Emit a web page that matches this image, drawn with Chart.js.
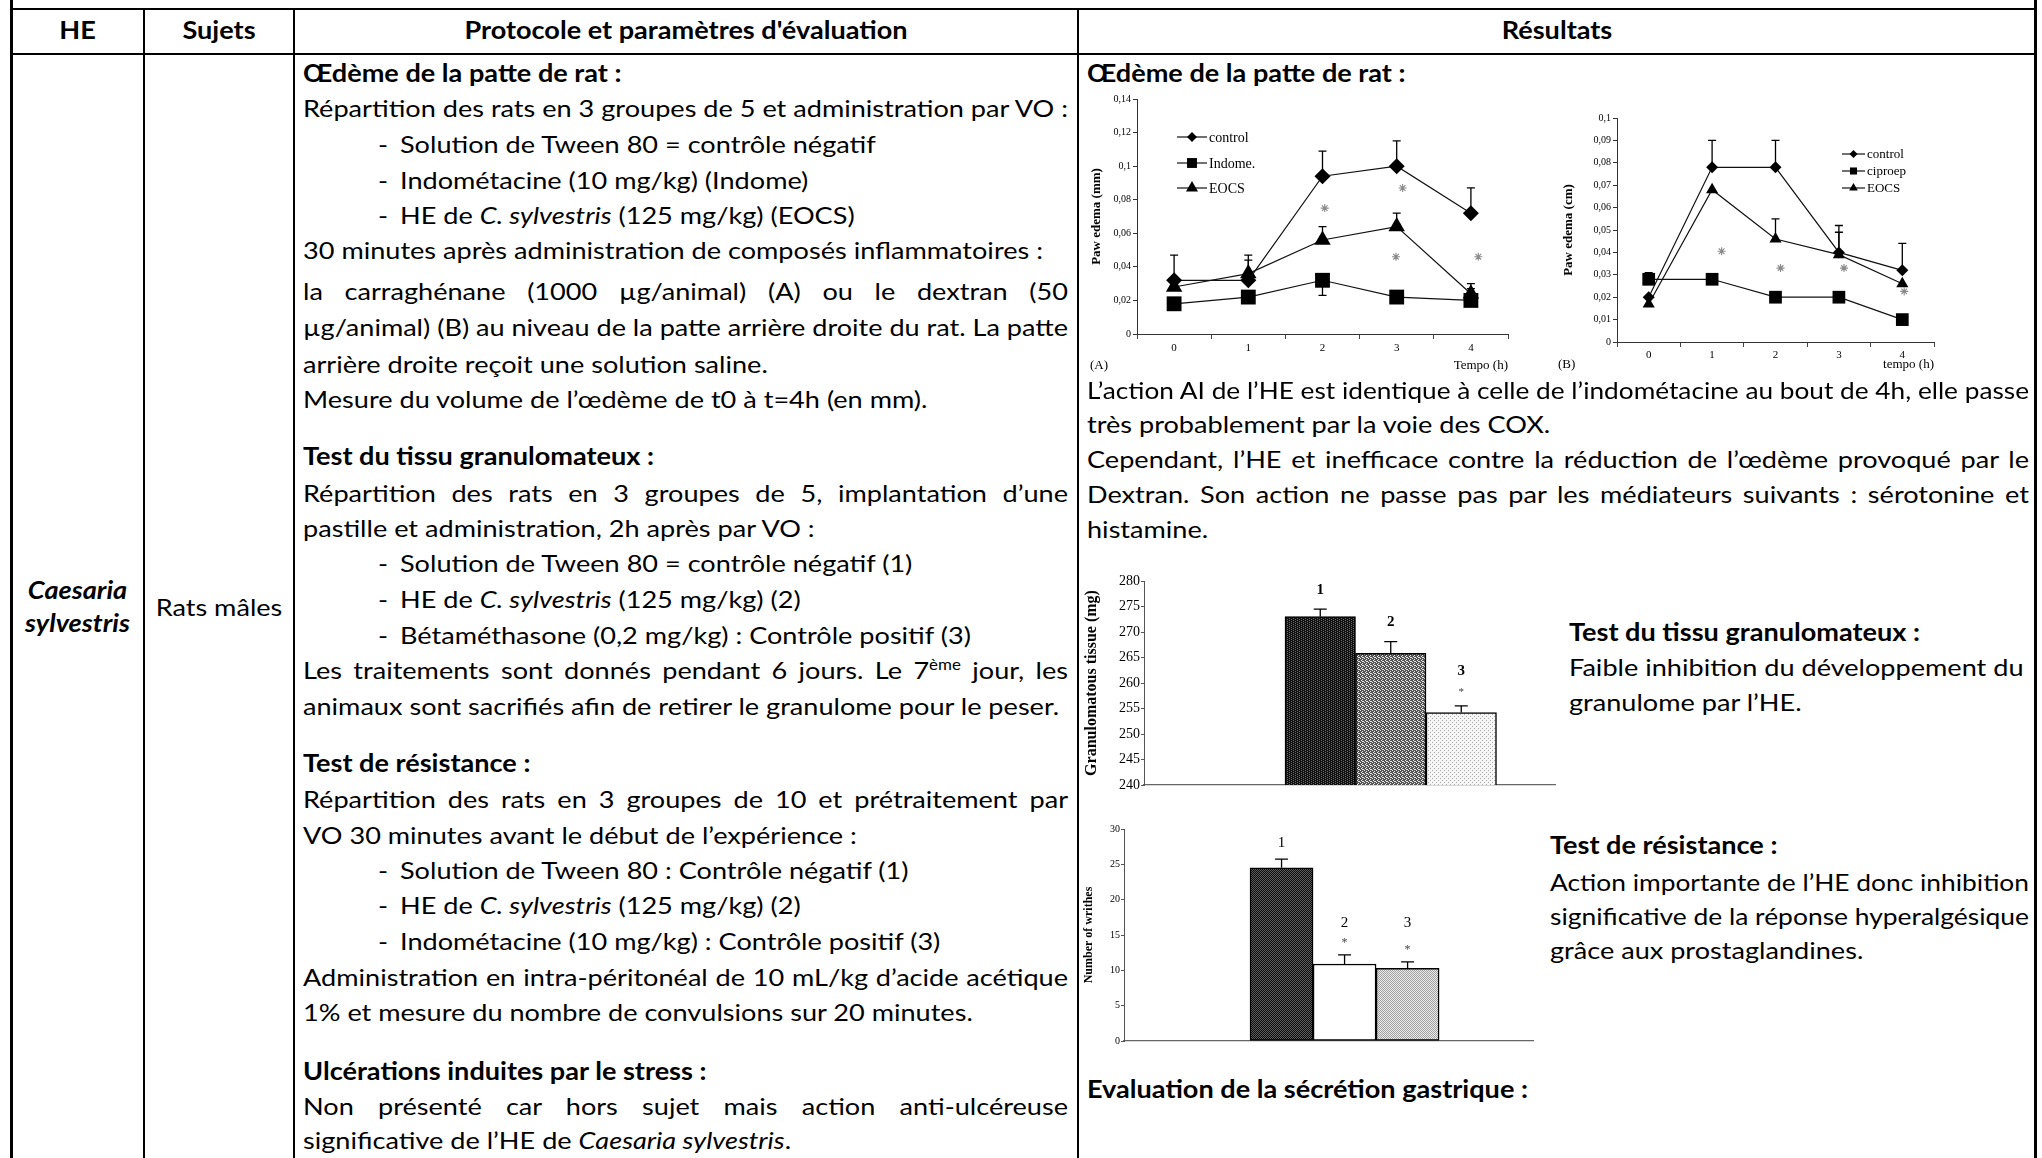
<!DOCTYPE html>
<html lang="fr">
<head>
<meta charset="utf-8">
<title>Caesaria sylvestris - activité anti-inflammatoire</title>
<script src="https://cdn.jsdelivr.net/npm/chart.js@4.4.1/dist/chart.umd.min.js"></script>
<style>
html, body { margin: 0; padding: 0; background: #fff; overflow: hidden; }
#page { position: relative; width: 2042px; height: 1158px; overflow: hidden; background: #fff; color: #000; font-family: Lato, 'Open Sans', sans-serif; }
.rule { position: absolute; background: #000; }
.ln { position: absolute; white-space: nowrap; font-size: 24px; line-height: 30px; transform-origin: 0 50%; }
.ln.b { font-weight: 700; }
.ln.c { text-align: center; transform-origin: 50% 50%; }
.ln.j { text-align: justify; text-align-last: justify; }
.ln sup { font-size: 15px; line-height: 0; }
canvas { position: absolute; }
.cap { position: absolute; font-family: 'Liberation Serif', serif; font-size: 13px; line-height: 16px; }
</style>
</head>
<body>
<div id="page">
  <!-- bordures du tableau -->
  <div class="rule" style="left:10px;top:0;width:3px;height:1158px"></div>
  <div class="rule" style="left:2034px;top:0;width:3px;height:1158px"></div>
  <div class="rule" style="left:10px;top:8px;width:2027px;height:2px"></div>
  <div class="rule" style="left:10px;top:53px;width:2027px;height:2px"></div>
  <div class="rule" style="left:143px;top:8px;width:2px;height:1150px"></div>
  <div class="rule" style="left:293px;top:8px;width:2px;height:1150px"></div>
  <div class="rule" style="left:1077px;top:8px;width:2px;height:1150px"></div>

  <canvas id="chartA" width="440" height="292" style="left:1085px;top:88px"></canvas>
  <canvas id="chartB" width="400" height="276" style="left:1555px;top:104px"></canvas>
  <canvas id="chartG" width="480" height="225" style="left:1080px;top:570px"></canvas>
  <canvas id="chartW" width="465" height="232" style="left:1075px;top:818px"></canvas>
  <div class="cap" style="left:1090px;top:357px">(A)</div>
  <div class="cap" style="left:1558px;top:356px">(B)</div>
</div>

<script>
// ---- données ----
const hours = [0, 1, 2, 3, 4];

// (A) carraghénane
const controlA = [0.032, 0.032, 0.094, 0.100, 0.072];
const indomeA = [0.018, 0.022, 0.032, 0.022, 0.020];
const eocsA = [0.028, 0.036, 0.056, 0.064, 0.024];
const controlAErr = [0.015, 0.015, 0.015, 0.015, 0.015];
const indomeAErrUp = [0, 0, 0, 0, 0.007];
const indomeAErrDown = [0, 0, 0.009, 0, 0];
const eocsAErr = [0, 0.008, 0.008, 0.008, 0.006];
const starsAx = [2.03, 3.08, 2.99, 4.1];
const starsAy = [0.075, 0.087, 0.046, 0.046];

// (B) dextran
const controlB = [0.020, 0.078, 0.078, 0.040, 0.032];
const ciproepB = [0.028, 0.028, 0.020, 0.020, 0.010];
const eocsB = [0.017, 0.068, 0.046, 0.039, 0.026];
const controlBErr = [0, 0.012, 0.012, 0.012, 0.012];
const ciproepBErr = [0.003, 0, 0, 0, 0];
const eocsBErr = [0, 0, 0.009, 0.010, 0];
const starsBx = [1.15, 2.08, 3.08, 4.03];
const starsBy = [0.0405, 0.033, 0.033, 0.0226];

// tissu granulomateux (mg)
const groups = ['1', '2', '3'];
const granulome = [273.0, 265.8, 254.2];
const granulomeErr = [1.5, 2.3, 1.3];
const granulomeLabelY = [278.2, 272.0, 262.4];
const granulomeStarY = [null, null, 258.2];

// test de résistance (nombre de contorsions)
const writhes = [24.5, 10.9, 10.3];
const writhesErr = [1.25, 1.3, 0.9];
const writhesLabelY = [28.0, 16.7, 16.7];
const writhesStarY = [null, 13.9, 12.9];

const emptySlots = 2; // place vide à gauche des barres

// ---- texte du tableau ----
const P = 303, PD = 378, PT = 400, PW = 765, R = 1087, RW = 942;
const PR = P + PW, RR = R + RW; // bords droits des colonnes de texte
const textLines = [
    [11, 31, 'HE', 'b c', 133],
    [144, 31, 'Sujets', 'b c', 150],
    [294, 31, 'Protocole et paramètres d\'évaluation', 'b c', 784],
    [1078, 31, 'Résultats', 'b c', 958],
    [11, 591, '<i>Caesaria</i>', 'b c', 133],
    [11, 624, '<i>sylvestris</i>', 'b c', 133],
    [144, 608, 'Rats mâles', 'c', 150],
    [P, 74, 'Œdème de la patte de rat :', 'b'],
    [P, 109, 'Répartition des rats en 3 groupes de 5 et administration par VO :', 'ref'],
    [PD, 145, '-'], [PT, 145, 'Solution de Tween 80 = contrôle négatif'],
    [PD, 181, '-'], [PT, 181, 'Indométacine (10 mg/kg) (Indome)'],
    [PD, 216, '-'], [PT, 216, 'HE de <i>C. sylvestris</i> (125 mg/kg) (EOCS)'],
    [P, 251, '30 minutes après administration de composés inflammatoires :'],
    [P, 292, 'la carraghénane (1000 µg/animal) (A) ou le dextran (50', 'j', PW],
    [P, 328, 'µg/animal) (B) au niveau de la patte arrière droite du rat. La patte', 'j', PW],
    [P, 365, 'arrière droite reçoit une solution saline.'],
    [P, 400, 'Mesure du volume de l’œdème de t0 à t=4h (en mm).'],
    [P, 457, 'Test du tissu granulomateux :', 'b'],
    [P, 494, 'Répartition des rats en 3 groupes de 5, implantation d’une', 'j', PW],
    [P, 529, 'pastille et administration, 2h après par VO :'],
    [PD, 564, '-'], [PT, 564, 'Solution de Tween 80 = contrôle négatif (1)'],
    [PD, 600, '-'], [PT, 600, 'HE de <i>C. sylvestris</i> (125 mg/kg) (2)'],
    [PD, 636, '-'], [PT, 636, 'Bétaméthasone (0,2 mg/kg) : Contrôle positif (3)'],
    [P, 671, 'Les traitements sont donnés pendant 6 jours. Le 7<sup>ème</sup> jour, les', 'j', PW],
    [P, 707, 'animaux sont sacrifiés afin de retirer le granulome pour le peser.'],
    [P, 764, 'Test de résistance :', 'b'],
    [P, 800, 'Répartition des rats en 3 groupes de 10 et prétraitement par', 'j', PW],
    [P, 836, 'VO 30 minutes avant le début de l’expérience :'],
    [PD, 871, '-'], [PT, 871, 'Solution de Tween 80 : Contrôle négatif (1)'],
    [PD, 906, '-'], [PT, 906, 'HE de <i>C. sylvestris</i> (125 mg/kg) (2)'],
    [PD, 942, '-'], [PT, 942, 'Indométacine (10 mg/kg) : Contrôle positif (3)'],
    [P, 978, 'Administration en intra-péritonéal de 10 mL/kg d’acide acétique', 'j', PW],
    [P, 1013, '1% et mesure du nombre de convulsions sur 20 minutes.'],
    [P, 1072, 'Ulcérations induites par le stress :', 'b'],
    [P, 1107, 'Non présenté car hors sujet mais action anti-ulcéreuse', 'j', PW],
    [P, 1141, 'significative de l’HE de <i>Caesaria sylvestris</i>.'],
    [R, 74, 'Œdème de la patte de rat :', 'b'],
    [R, 391, 'L’action AI de l’HE est identique à celle de l’indométacine au bout de 4h, elle passe', 'j', RW],
    [R, 425, 'très probablement par la voie des COX.'],
    [R, 460, 'Cependant, l’HE et inefficace contre la réduction de l’œdème provoqué par le', 'j', RW],
    [R, 495, 'Dextran. Son action ne passe pas par les médiateurs suivants : sérotonine et', 'j', RW],
    [R, 530, 'histamine.'],
    [1569, 633, 'Test du tissu granulomateux :', 'b'],
    [1569, 668, 'Faible inhibition du développement du'],
    [1569, 703, 'granulome par l’HE.'],
    [1550, 846, 'Test de résistance :', 'b'],
    [1550, 883, 'Action importante de l’HE donc inhibition'],
    [1550, 917, 'significative de la réponse hyperalgésique'],
    [1550, 951, 'grâce aux prostaglandines.'],
    [R, 1090, 'Evaluation de la sécrétion gastrique :', 'b']
];

const page = document.getElementById('page');
const made = textLines.map(([x, y, html, cls = '', w]) => {
    const d = document.createElement('div');
    d.className = 'ln ' + cls;
    d.style.left = x + 'px';
    d.style.top = (y - 16) + 'px';
    if (w && cls !== 'j') d.style.width = w + 'px';
    d.innerHTML = html;
    page.appendChild(d);
    return { d, x, cls, w, natural: d.getBoundingClientRect().width };
});

// Calibri est plus étroite : on cale la largeur sur une ligne de référence,
// sans jamais dépasser le bord droit de la colonne
const ref = made.find(m => m.cls === 'ref');
const k = PW / ref.natural;
made.forEach(m => {
    let kl = k;
    if (!m.cls.includes('c')) {
        const right = m.x < 1078 ? PR : RR;
        kl = Math.min(k, (right - m.x) / m.natural);
    }
    m.d.style.transform = `scaleX(${kl})`;
    if (m.cls === 'j') m.d.style.width = (m.w / kl) + 'px';
});

// ---- Chart.js ----
Chart.defaults.font.family = "'Liberation Serif', 'Times New Roman', serif";
Chart.defaults.color = '#000';

function drawMarker(ctx, style, x, y, r) {
    ctx.beginPath();
    if (style === 'rectRot') {
        ctx.moveTo(x - r, y); ctx.lineTo(x, y - r); ctx.lineTo(x + r, y); ctx.lineTo(x, y + r);
    } else if (style === 'rect') {
        const s = r * Math.SQRT1_2;
        ctx.rect(x - s, y - s, 2 * s, 2 * s);
    } else {
        ctx.moveTo(x, y - r); ctx.lineTo(x + 0.866 * r, y + 0.5 * r); ctx.lineTo(x - 0.866 * r, y + 0.5 * r);
    }
    ctx.closePath();
    ctx.fill();
}

// barres d'erreur (valeurs dans dataset.errUp / errDown)
const errorBars = {
    id: 'errorBars',
    afterDatasetsDraw(chart) {
        const ctx = chart.ctx, xs = chart.scales.x, ys = chart.scales.y;
        ctx.save();
        ctx.strokeStyle = '#000';
        ctx.lineWidth = 1.3;
        chart.data.datasets.forEach(ds => {
            if (!ds.errUp && !ds.errDown) return;
            const cap = ds.capWidth || 8;
            ds.data.forEach((pt, i) => {
                const x = xs.getPixelForValue(pt.x);
                const y0 = ys.getPixelForValue(pt.y);
                [[ds.errUp, 1], [ds.errDown, -1]].forEach(([arr, dir]) => {
                    if (!arr || !arr[i]) return;
                    const y1 = ys.getPixelForValue(pt.y + dir * arr[i]);
                    ctx.beginPath();
                    ctx.moveTo(x, y0); ctx.lineTo(x, y1);
                    ctx.moveTo(x - cap / 2, y1); ctx.lineTo(x + cap / 2, y1);
                    ctx.stroke();
                });
            });
        });
        ctx.restore();
    }
};

function makeLegend(cfg) {
    return {
        id: 'lineLegend',
        afterDraw(chart) {
            const ctx = chart.ctx, a = chart.chartArea;
            ctx.save();
            ctx.font = cfg.font;
            ctx.textBaseline = 'middle';
            ctx.textAlign = 'left';
            cfg.rows.forEach((dy, i) => {
                const ds = chart.data.datasets[i];
                const x0 = a.left + cfg.x, y = a.top + dy;
                ctx.strokeStyle = '#111';
                ctx.fillStyle = '#000';
                ctx.lineWidth = 1.2;
                ctx.beginPath(); ctx.moveTo(x0, y); ctx.lineTo(x0 + cfg.len, y); ctx.stroke();
                drawMarker(ctx, ds.pointStyle, x0 + cfg.len / 2, y, cfg.radius[i]);
                ctx.fillText(ds.label, x0 + cfg.len + 2, y + 1);
            });
            ctx.restore();
        }
    };
}

function makeNotes(items) {
    return {
        id: 'notes',
        afterDatasetsDraw(chart) {
            const ctx = chart.ctx, xs = chart.scales.x, ys = chart.scales.y;
            ctx.save();
            ctx.textAlign = 'center';
            ctx.textBaseline = 'middle';
            items.forEach(n => {
                ctx.font = n.font;
                ctx.fillStyle = n.color;
                ctx.fillText(n.text, xs.getPixelForValue(n.x), ys.getPixelForValue(n.y));
            });
            ctx.restore();
        }
    };
}

function series(label, values, style, radius, errUp, errDown) {
    return {
        label: label,
        data: hours.map((h, i) => ({ x: h, y: values[i] })),
        pointStyle: style,
        pointRadius: radius,
        pointHoverRadius: radius,
        borderColor: '#111',
        backgroundColor: '#000',
        pointBackgroundColor: '#000',
        pointBorderColor: '#000',
        pointBorderWidth: 0,
        borderWidth: 1.2,
        tension: 0,
        errUp: errUp,
        errDown: errDown
    };
}

function stars(xs, ys) {
    return {
        type: 'scatter',
        label: '*',
        data: xs.map((x, i) => ({ x: x, y: ys[i] })),
        pointStyle: 'star',
        pointRadius: 4,
        pointBorderColor: '#8a8a8a',
        pointBorderWidth: 1.1,
        showLine: false
    };
}

const commaFmt = v => v === 0 ? '0' : String(+v.toFixed(3)).replace('.', ',');

function halfTicks(scale) {
    const t = [];
    for (let v = -0.5; v <= 4.5 + 1e-9; v += 0.5) t.push({ value: v });
    scale.ticks = t;
}

function lineChart(id, cfg) {
    return new Chart(document.getElementById(id), {
        type: 'line',
        data: { datasets: cfg.datasets },
        options: {
            responsive: false,
            animation: false,
            devicePixelRatio: 1,
            layout: { padding: cfg.padding },
            plugins: { legend: { display: false }, tooltip: { enabled: false } },
            scales: {
                x: {
                    type: 'linear',
                    min: -0.5,
                    max: 4.5,
                    afterBuildTicks: halfTicks,
                    ticks: {
                        autoSkip: false,
                        maxRotation: 0,
                        font: { size: 11 },
                        padding: cfg.xPad,
                        callback: v => Number.isInteger(v) ? v : ''
                    },
                    grid: {
                        drawOnChartArea: false,
                        drawTicks: true,
                        tickLength: 5,
                        color: c => (c.tick && !Number.isInteger(c.tick.value)) ? '#444' : 'rgba(0,0,0,0)'
                    },
                    border: { display: true, color: '#333', width: 1 },
                    title: { display: true, text: cfg.xTitle, align: 'end', font: { size: 13 }, padding: { top: 0, bottom: cfg.xTitlePad } },
                    afterFit: s => { s.height = cfg.xHeight; }
                },
                y: {
                    min: 0,
                    max: cfg.yMax,
                    ticks: { stepSize: cfg.yStep, font: { size: 10 }, padding: 2, callback: commaFmt },
                    grid: { drawOnChartArea: false, drawTicks: true, tickLength: 4, color: '#333' },
                    border: { display: true, color: '#333', width: 1 },
                    title: { display: true, text: cfg.yTitle, font: { size: 13, weight: 'bold' }, padding: { top: cfg.yTitlePad, bottom: 0 } },
                    afterFit: s => { s.width = cfg.yWidth; }
                }
            }
        },
        plugins: [errorBars, makeLegend(cfg.legend)]
    });
}

lineChart('chartA', {
    datasets: [
        series('control', controlA, 'rectRot', 8, controlAErr),
        series('Indome.', indomeA, 'rect', 10.5, indomeAErrUp, indomeAErrDown),
        series('EOCS', eocsA, 'triangle', 9.5, eocsAErr),
        stars(starsAx, starsAy)
    ],
    padding: { top: 11, right: 17, bottom: 0, left: 0 },
    yMax: 0.14, yStep: 0.02, yWidth: 52, yTitlePad: 4, yTitle: 'Paw edema (mm)',
    xHeight: 46, xPad: 3, xTitle: 'Tempo (h)', xTitlePad: 7,
    legend: { x: 40, len: 30, rows: [38, 64, 89], radius: [5, 7, 7], font: "14px 'Liberation Serif'" }
});

lineChart('chartB', {
    datasets: [
        series('control', controlB, 'rectRot', 6, controlBErr),
        series('ciproep', ciproepB, 'rect', 9, ciproepBErr),
        series('EOCS', eocsB, 'triangle', 7, eocsBErr),
        stars(starsBx, starsBy)
    ],
    padding: { top: 14, right: 21, bottom: 0, left: 0 },
    yMax: 0.1, yStep: 0.01, yWidth: 62, yTitlePad: 6, yTitle: 'Paw edema (cm)',
    xHeight: 38, xPad: 2, xTitle: 'tempo (h)', xTitlePad: 8,
    legend: { x: 225, len: 23, rows: [36, 53, 70], radius: [4, 5, 5], font: "13px 'Liberation Serif'" }
});

// motifs des barres
function makePattern(size, bg, fg, cells) {
    const c = document.createElement('canvas');
    c.width = size; c.height = size;
    const g = c.getContext('2d');
    g.fillStyle = bg; g.fillRect(0, 0, size, size);
    g.fillStyle = fg;
    cells.forEach(([x, y]) => g.fillRect(x, y, 1, 1));
    return g.createPattern(c, 'repeat');
}

function barChart(id, cfg) {
    const notes = [];
    groups.forEach((g, i) => {
        notes.push({ x: i + emptySlots + 0.5, y: cfg.labelY[i], text: g, font: cfg.labelFont, color: '#000' });
        if (cfg.starY[i] !== null) notes.push({ x: i + emptySlots + 0.5, y: cfg.starY[i], text: '*', font: cfg.starFont, color: '#444' });
    });
    return new Chart(document.getElementById(id), {
        type: 'bar',
        data: {
            datasets: [{
                data: cfg.values.map((v, i) => ({ x: i + emptySlots + 0.5, y: v })),
                backgroundColor: cfg.fills,
                borderColor: '#000',
                borderWidth: 1.5,
                borderSkipped: false,
                barPercentage: 1,
                categoryPercentage: 1,
                errUp: cfg.err,
                capWidth: 13
            }]
        },
        options: {
            responsive: false,
            animation: false,
            devicePixelRatio: 1,
            layout: { padding: cfg.padding },
            plugins: { legend: { display: false }, tooltip: { enabled: false } },
            scales: {
                x: {
                    type: 'linear',
                    min: 0,
                    max: cfg.xMax,
                    offset: false,
                    afterBuildTicks: s => { s.ticks = [{ value: 0 }]; },
                    ticks: { display: false },
                    grid: { display: false, offset: false },
                    border: { display: true, color: '#666', width: 1.2 },
                    afterFit: s => { s.height = cfg.xHeight; }
                },
                y: {
                    min: cfg.yMin,
                    max: cfg.yMax,
                    ticks: { stepSize: cfg.yStep, font: { size: cfg.tickSize }, padding: 1 },
                    grid: { drawOnChartArea: false, drawTicks: true, tickLength: 3, color: '#555' },
                    border: { display: true, color: '#555', width: 1 },
                    title: { display: true, text: cfg.yTitle, font: { size: cfg.titleSize, weight: 'bold' }, padding: { top: cfg.yTitlePad, bottom: 0 } },
                    afterFit: s => { s.width = cfg.yWidth; }
                }
            }
        },
        plugins: [errorBars, makeNotes(notes)]
    });
}

barChart('chartG', {
    values: granulome, err: granulomeErr, labelY: granulomeLabelY, starY: granulomeStarY,
    fills: [
        makePattern(4, '#111', '#6a6a6a', [[1, 0], [1, 2], [3, 1], [3, 3]]),
        makePattern(4, '#555', '#e6e6e6', [[0, 0], [2, 1], [1, 2], [3, 3], [2, 3]]),
        makePattern(4, '#f6f6f6', '#a8a8a8', [[0, 0], [2, 2]])
    ],
    padding: { top: 11, right: 5, bottom: 0, left: 0 },
    xMax: 5.83, xHeight: 10,
    yMin: 240, yMax: 280, yStep: 5, tickSize: 14, yWidth: 64,
    yTitle: 'Granulomatous tissue (mg)', titleSize: 16, yTitlePad: 2,
    labelFont: "bold 15px 'Liberation Serif'", starFont: "11px 'Liberation Serif'"
});

barChart('chartW', {
    values: writhes, err: writhesErr, labelY: writhesLabelY, starY: writhesStarY,
    fills: [
        makePattern(2, '#0c0c0c', '#5e5e5e', [[1, 0], [0, 1]]),
        '#ffffff',
        makePattern(2, '#ececec', '#a0a0a0', [[1, 0], [0, 1]])
    ],
    padding: { top: 11, right: 7, bottom: 0, left: 0 },
    xMax: 6.49, xHeight: 9,
    yMin: 0, yMax: 30, yStep: 5, tickSize: 10, yWidth: 49,
    yTitle: 'Number of writhes', titleSize: 12, yTitlePad: 7,
    labelFont: "15px 'Liberation Serif'", starFont: "12px 'Liberation Serif'"
});
</script>
</body>
</html>
